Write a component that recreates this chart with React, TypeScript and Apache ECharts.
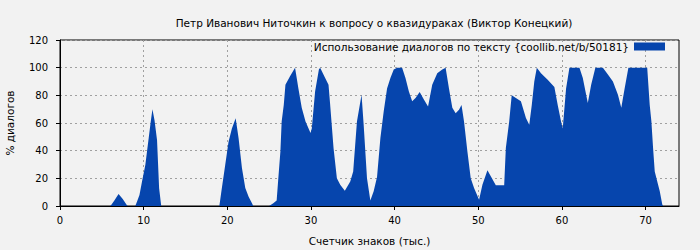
import React, { useEffect, useRef } from "react";
import * as echarts from "echarts";

const titleText = "Петр Иванович Ниточкин к вопросу о квазидураках (Виктор Конецкий)";
const seriesName = "Использование диалогов по тексту {coollib.net/b/50181}";
const xAxisName = "Счетчик знаков (тыс.)";
const yAxisName = "% диалогов";

// x: counter of characters (thousands), y: % of dialogues
const xs: number[] = [
  0, 6.0, 6.1, 6.5, 7.0, 7.5, 8.0, 8.1,
  9.0, 9.2, 9.5, 9.8, 10.2, 10.6, 10.85, 11.05, 11.3, 11.6, 11.85, 12.1,
  19.05, 19.35, 19.75, 20.15, 20.55, 21.0, 21.35, 21.75, 22.15, 22.55, 22.95, 23.1,
  25.0, 25.5, 25.9, 26.1, 26.35, 26.5, 26.75, 26.95, 27.5, 28.1, 28.5, 28.9, 29.35, 29.95, 30.1, 30.5, 30.95, 31.1, 31.7, 32.1, 32.3, 32.7, 33.1, 33.5, 34.05, 34.7, 35.05, 35.5, 36.05, 36.3, 36.7, 37.1, 37.5, 37.9, 38.3, 38.7, 39.1, 39.5, 39.9, 40.3, 40.9, 41.3, 41.7, 42.1, 42.5, 43.0, 43.5, 44.0, 44.5, 45.1, 45.7, 46.1, 46.5, 46.9, 47.3, 47.7, 48.0, 48.3, 48.7, 49.1, 49.5, 50.1, 50.5, 51.1, 51.5, 52.1, 53.1, 53.3, 53.7, 54.0, 54.5, 55.1, 55.7, 56.1, 56.4, 56.7, 57.0, 57.5, 58.3, 59.1, 59.5, 59.9, 60.1, 60.5, 60.9, 62.1, 62.5, 62.9, 63.1, 63.5, 64.0, 64.9, 65.5, 66.1, 66.7, 67.1, 67.5, 67.95, 70.2, 70.5, 70.7, 70.9, 71.1, 71.5, 71.7, 72.0, 72.1, 74
];
const ys: number[] = [
  0, 0, 0.5, 4, 8.7, 5, 0.5, 0,
  0, 3, 8, 17.6, 29.6, 49, 61, 70, 62, 47.7, 12.8, 0,
  0, 13, 29.6, 46.5, 56, 63.4, 49, 27.5, 13, 6.7, 2, 0,
  0, 2, 4, 20, 39.5, 61, 73, 87.7, 93.8, 100, 85, 71, 61, 52.8, 56, 83, 98.6, 100, 92.5, 87.7, 73, 42, 20, 15.4, 11, 17.8, 25, 61, 80.5, 59, 20, 4, 10.6, 21, 49, 68.5, 85, 92.5, 98.6, 100, 100, 92.5, 83, 75.7, 78, 82.4, 76.9, 72, 87.7, 96, 98.6, 100, 85, 71, 67, 69.6, 73, 61, 39.5, 20, 13, 4.6, 15.4, 25.8, 21.5, 15, 15, 42, 61, 80, 78, 75.7, 63.6, 58.8, 73, 90, 100, 96, 91.3, 86, 73, 61, 56, 85, 100, 100, 92.5, 80.5, 74.5, 87.7, 100, 100, 95, 90, 80.5, 71, 85, 100, 100, 73, 61, 42, 25, 15.4, 10.6, 1, 0, 0
];

const xTicks = [0, 10, 20, 30, 40, 50, 60, 70];
const yTicks = [0, 20, 40, 60, 80, 100, 120];

export default function App() {
  const ref = useRef<HTMLDivElement>(null);
  useEffect(() => {
    if (!ref.current) return;
    const chart = echarts.init(ref.current, undefined, { renderer: "svg" });
    const font = "DejaVu Sans";
    const data = xs.map((x, i) => [x, ys[i]]);
    chart.setOption({
      animation: false,
      backgroundColor: "#f2f2f2",
      textStyle: { fontFamily: font },
      title: {
        text: titleText,
        left: 369,
        textAlign: "center",
        top: 12,
        textStyle: { fontFamily: font, fontSize: 10.5, fontWeight: "normal", color: "#000" },
      },
      legend: {
        data: [{ name: seriesName, icon: "rect" }],
        right: 35,
        top: 41,
        padding: 0,
        align: "right",
        itemWidth: 31,
        itemHeight: 8,
        textStyle: { fontFamily: font, fontSize: 10.5, color: "#000" },
      },
      grid: {
        left: 60,
        right: 21,
        top: 40,
        bottom: 44,
        outerBoundsMode: "none",
        containLabel: false,
        show: true,
        backgroundColor: "#f2f2f2",
        borderColor: "#000",
        borderWidth: 1,
      },
      xAxis: {
        type: "value",
        min: 0,
        max: 74,
        interval: 10,
        name: xAxisName,
        nameLocation: "middle",
        nameGap: 29,
        nameTextStyle: { fontFamily: font, fontSize: 10.5, color: "#000" },
        axisLine: { lineStyle: { color: "#000", width: 1 } },
        axisTick: { show: true, length: 4, inside: false, lineStyle: { color: "#000" }, customValues: xTicks },
        axisLabel: {
          fontFamily: font,
          fontSize: 10,
          color: "#000",
          margin: 9,
          customValues: xTicks,
        },
        splitLine: { show: true, lineStyle: { color: "#a0a0a0", type: [2, 3], width: 1 } },
      },
      yAxis: {
        type: "value",
        min: 0,
        max: 120,
        interval: 20,
        name: yAxisName,
        nameLocation: "middle",
        nameGap: 45,
        nameRotate: 90,
        nameTextStyle: { fontFamily: font, fontSize: 10.5, color: "#000" },
        axisLine: { show: true, lineStyle: { color: "#000", width: 1 } },
        axisTick: { show: true, length: 4, inside: false, lineStyle: { color: "#000" } },
        axisLabel: { fontFamily: font, fontSize: 10, color: "#000", margin: 12 },
        splitLine: { show: true, lineStyle: { color: "#a0a0a0", type: [2, 3], width: 1 } },
      },
      series: [
        {
          name: seriesName,
          type: "line",
          data,
          symbol: "none",
          smooth: false,
          color: "#0645ad",
          lineStyle: { width: 0, color: "#0645ad" },
          areaStyle: { color: "#0645ad", opacity: 1 },
          silent: true,
        },
      ],
    });
    return () => chart.dispose();
  }, []);
  return (
    <div
      ref={ref}
      style={{ position: "fixed", left: 0, top: 0, width: 700, height: 250 }}
    />
  );
}
